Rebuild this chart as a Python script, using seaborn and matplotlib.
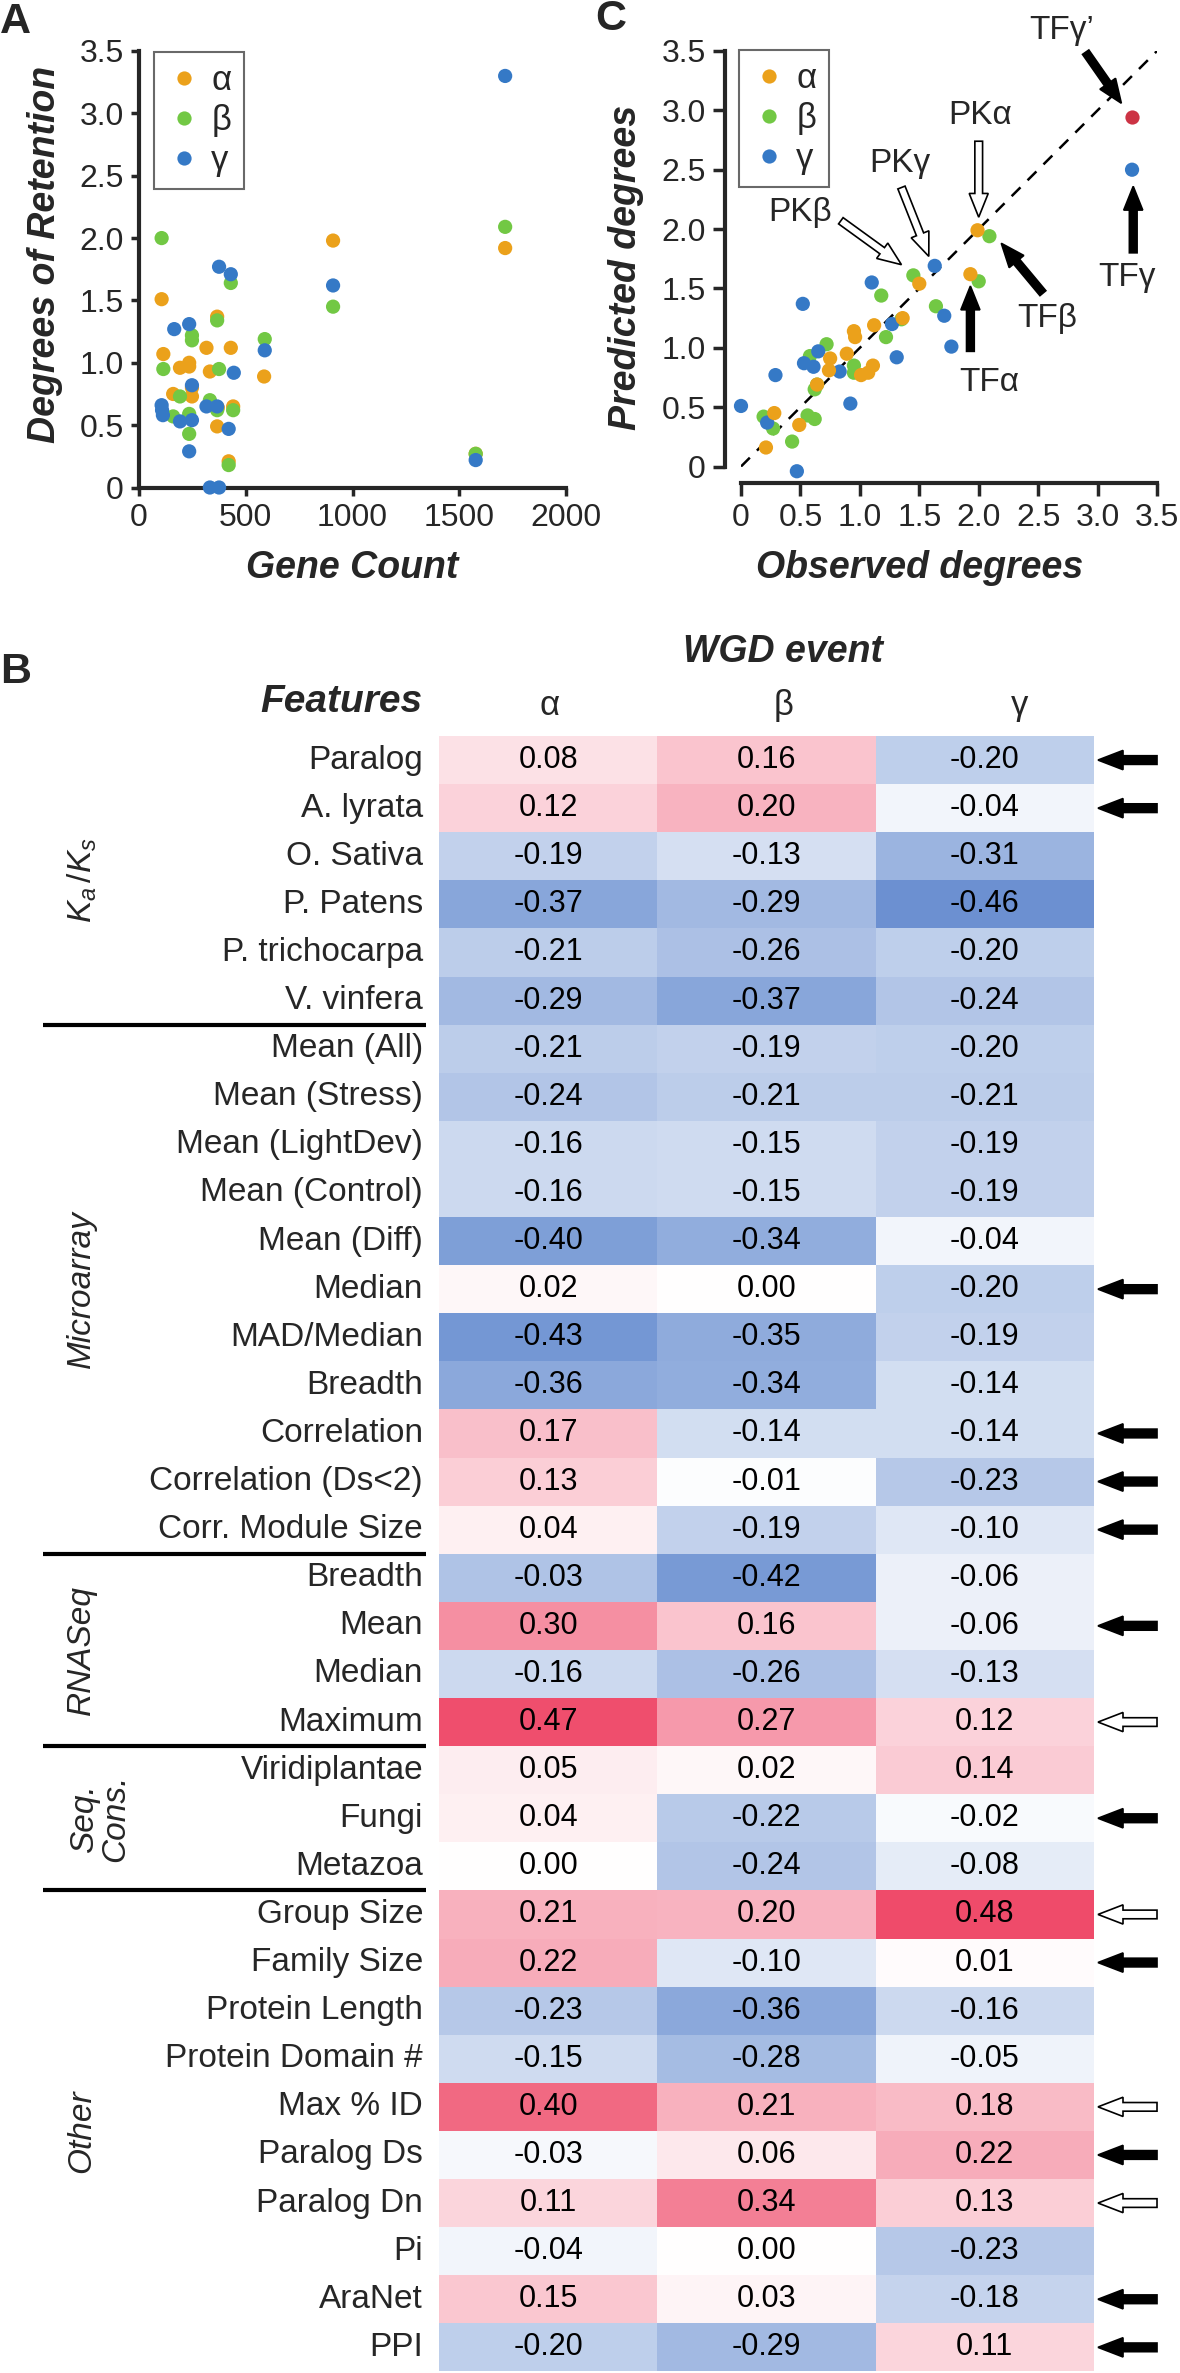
import numpy as np
import pandas as pd
import matplotlib.pyplot as plt
import seaborn as sns
from matplotlib.colors import LinearSegmentedColormap
from matplotlib.patches import FancyArrow

sns.set_style('ticks')
plt.rcParams['font.family'] = ['Liberation Sans', 'DejaVu Sans']
plt.rcParams['mathtext.fontset'] = 'custom'
plt.rcParams['mathtext.rm'] = 'Liberation Sans'
plt.rcParams['mathtext.it'] = 'Liberation Sans:italic'

# ---- data ----
events = ['α', 'β', 'γ']
colors = {'α': '#EBA11B', 'β': '#72C844', 'γ': '#3579C6'}

# panel A: gene count vs degrees of retention
alpha_count = [106, 114, 160, 192, 235, 235, 248, 248, 316, 332, 366, 366, 369, 430, 441, 420, 586, 909, 1577, 1715]
alpha_deg = [1.51, 1.07, 0.75, 0.96, 1.00, 0.97, 0.73, 0.80, 1.12, 0.93, 1.37, 0.49, 0.64, 1.12, 0.65, 0.21, 0.89, 1.98, 0.27, 1.92]
beta_count = [106, 114, 160, 192, 235, 235, 248, 248, 332, 366, 375, 366, 430, 441, 420, 589, 909, 1577, 1715]
beta_deg = [2.00, 0.95, 0.57, 0.73, 0.59, 0.43, 1.22, 1.18, 0.70, 1.34, 0.95, 0.62, 1.64, 0.62, 0.18, 1.19, 1.45, 0.27, 2.09]
gamma_count = [106, 108, 112, 165, 192, 235, 248, 248, 235, 316, 332, 375, 366, 375, 430, 444, 420, 589, 909, 1577, 1715]
gamma_deg = [0.66, 0.62, 0.58, 1.27, 0.53, 1.31, 0.82, 0.54, 0.29, 0.65, 0.0, 0.0, 0.65, 1.77, 1.71, 0.92, 0.47, 1.10, 1.62, 0.22, 3.30]

# panel C: observed vs predicted degrees
alpha_obs = [0.21, 0.28, 0.49, 0.64, 0.74, 0.75, 0.89, 0.95, 0.96, 1.01, 1.07, 1.11, 1.12, 1.36, 1.50, 1.93, 1.99]
alpha_pred = [0.16, 0.45, 0.35, 0.69, 0.81, 0.91, 0.95, 1.14, 1.09, 0.77, 0.79, 0.85, 1.19, 1.25, 1.54, 1.62, 1.99]
beta_obs = [0.19, 0.27, 0.43, 0.56, 0.58, 0.62, 0.62, 0.64, 0.72, 0.95, 0.95, 1.18, 1.22, 1.35, 1.45, 1.64, 2.00, 2.09]
beta_pred = [0.42, 0.32, 0.21, 0.43, 0.93, 0.40, 0.65, 0.69, 1.03, 0.85, 0.79, 1.44, 1.09, 1.24, 1.61, 1.35, 1.56, 1.94]
gamma_obs = [0.00, 0.22, 0.29, 0.47, 0.52, 0.53, 0.61, 0.65, 0.83, 0.92, 1.10, 1.27, 1.31, 1.63, 1.71, 1.77, 3.29]
gamma_pred = [0.51, 0.37, 0.77, -0.04, 1.37, 0.87, 0.84, 0.97, 0.80, 0.53, 1.55, 1.20, 0.92, 1.69, 1.27, 1.01, 2.50]
tfg2_obs, tfg2_pred = 3.29, 2.94

deg_ticks = [0, 0.5, 1.0, 1.5, 2.0, 2.5, 3.0, 3.5]
deg_ticklabels = ['0', '0.5', '1.0', '1.5', '2.0', '2.5', '3.0', '3.5']
count_ticks = [0, 500, 1000, 1500, 2000]

# panel B: correlation of features with retention
features = ['Paralog', 'A. lyrata', 'O. Sativa', 'P. Patens', 'P. trichocarpa', 'V. vinfera',
            'Mean (All)', 'Mean (Stress)', 'Mean (LightDev)', 'Mean (Control)', 'Mean (Diff)',
            'Median', 'MAD/Median', 'Breadth', 'Correlation', 'Correlation (Ds<2)', 'Corr. Module Size',
            'Breadth', 'Mean', 'Median', 'Maximum',
            'Viridiplantae', 'Fungi', 'Metazoa',
            'Group Size', 'Family Size', 'Protein Length', 'Protein Domain #', 'Max % ID',
            'Paralog Ds', 'Paralog Dn', 'Pi', 'AraNet', 'PPI']
corr_alpha = [0.08, 0.12, -0.19, -0.37, -0.21, -0.29,
              -0.21, -0.24, -0.16, -0.16, -0.40, 0.02, -0.43, -0.36, 0.17, 0.13, 0.04,
              -0.03, 0.30, -0.16, 0.47,
              0.05, 0.04, 0.00,
              0.21, 0.22, -0.23, -0.15, 0.40, -0.03, 0.11, -0.04, 0.15, -0.20]
corr_beta = [0.16, 0.20, -0.13, -0.29, -0.26, -0.37,
             -0.19, -0.21, -0.15, -0.15, -0.34, 0.00, -0.35, -0.34, -0.14, -0.01, -0.19,
             -0.42, 0.16, -0.26, 0.27,
             0.02, -0.22, -0.24,
             0.20, -0.10, -0.36, -0.28, 0.21, 0.06, 0.34, 0.00, 0.03, -0.29]
corr_gamma = [-0.20, -0.04, -0.31, -0.46, -0.20, -0.24,
              -0.20, -0.21, -0.19, -0.19, -0.04, -0.20, -0.19, -0.14, -0.14, -0.23, -0.10,
              -0.06, -0.06, -0.13, 0.12,
              0.14, -0.02, -0.08,
              0.48, 0.01, -0.16, -0.05, 0.18, 0.22, 0.13, -0.23, -0.18, 0.11]
# the cell shading in the original does not follow the printed value for this cell
shade_override = {(17, 'α'): -0.25}
# b = black arrow, w = open arrow
arrow_kind = ['b', 'b', '', '', '', '',
              '', '', '', '', '', 'b', '', '', 'b', 'b', 'b',
              '', 'b', '', 'w',
              '', 'b', '',
              'w', 'b', '', '', 'w', 'b', 'w', '', 'b', 'b']
groups = [r'$K_a\,/K_s$', 'Microarray', 'RNASeq', 'Seq.\nCons.', 'Other']
group_sizes = [6, 11, 4, 3, 10]

# ---- figure ----
W, H = 1180, 2373
fig = plt.figure(figsize=(W / 100, H / 100), dpi=100)


def box(l, t, r, b):
    return [l / W, 1 - b / H, (r - l) / W, (b - t) / H]


def style_axis(ax):
    sns.despine(ax=ax)
    for s in ['left', 'bottom']:
        ax.spines[s].set_linewidth(3)
    ax.tick_params(width=2.5, labelsize=23, pad=5)


# panel A
axA = fig.add_axes(box(139, 51, 566, 487.5))
dfA = pd.DataFrame({
    'count': alpha_count + beta_count + gamma_count,
    'deg': alpha_deg + beta_deg + gamma_deg,
    'event': ['α'] * len(alpha_count) + ['β'] * len(beta_count) + ['γ'] * len(gamma_count)})
sns.scatterplot(data=dfA, x='count', y='deg', hue='event', hue_order=events, palette=colors,
                s=105, linewidth=0, ax=axA, clip_on=False, zorder=3)
axA.set_xlim(0, 2000)
axA.set_ylim(0, 3.5)
axA.set_xticks(count_ticks)
axA.set_xticklabels([str(c) for c in count_ticks], fontsize=23)
axA.set_yticks(deg_ticks)
axA.set_yticklabels(deg_ticklabels, fontsize=23)
style_axis(axA)
axA.tick_params(length=6)
axA.set_xlabel('Gene Count', fontsize=27, fontweight='bold', fontstyle='italic', va='center')
axA.xaxis.set_label_coords(0.5, -0.184)
axA.set_ylabel('Degrees of Retention', fontsize=27, fontweight='bold', fontstyle='italic', va='center')
axA.yaxis.set_label_coords(-0.22, 0.533)
h, l = axA.get_legend_handles_labels()
axA.legend(h, l, loc='upper left', bbox_to_anchor=((154 - 139) / 427, (487.5 - 52) / 436.5),
           borderaxespad=0, frameon=True, fancybox=False, edgecolor='#444444', fontsize=25,
           handletextpad=0.3, labelspacing=0.2, borderpad=0.35, handlelength=1.0)
axA.get_legend().get_frame().set_linewidth(1.5)

# panel C
axC = fig.add_axes(box(741, 51, 1157, 466.5))
dfC = pd.DataFrame({
    'obs': beta_obs + gamma_obs + alpha_obs,
    'pred': beta_pred + gamma_pred + alpha_pred,
    'event': ['β'] * len(beta_obs) + ['γ'] * len(gamma_obs) + ['α'] * len(alpha_obs)})
axC.plot([0, 3.5], [0, 3.5], color='black', lw=1.8, ls=(0, (5, 4)), zorder=1)
sns.scatterplot(data=dfC, x='obs', y='pred', hue='event', hue_order=events, palette=colors,
                s=105, linewidth=0, ax=axC, clip_on=False, zorder=3)
axC.scatter([tfg2_obs], [tfg2_pred], s=105, color='#CC3344', linewidth=0, zorder=3, clip_on=False)
axC.set_xlim(0, 3.5)
axC.set_ylim(0, 3.5)
axC.set_xticks(deg_ticks)
axC.set_xticklabels(deg_ticklabels, fontsize=23)
axC.set_yticks(deg_ticks)
axC.set_yticklabels(deg_ticklabels, fontsize=23)
style_axis(axC)
axC.tick_params(length=9)
axC.spines['left'].set_position(('outward', 11.5))
axC.spines['bottom'].set_position(('outward', 12))
axC.set_xlabel('Observed degrees', fontsize=27, fontweight='bold', fontstyle='italic', va='center')
axC.xaxis.set_label_coords(0.43, -0.244)
axC.set_ylabel('Predicted degrees', fontsize=27, fontweight='bold', fontstyle='italic', va='center')
axC.yaxis.set_label_coords(-0.276, 0.48)
h, l = axC.get_legend_handles_labels()
axC.legend(h, l, loc='upper left', bbox_to_anchor=((739 - 741) / 416, (466.5 - 50) / 415.5),
           borderaxespad=0, frameon=True, fancybox=False, edgecolor='#444444', fontsize=25,
           handletextpad=0.3, labelspacing=0.2, borderpad=0.35, handlelength=1.0)
axC.get_legend().get_frame().set_linewidth(1.5)

# annotations in C: (text, text pos, arrow tail, arrow head, filled)
c_notes = [
    ('TFγ’', (2.70, 3.67), (2.90, 3.49), (3.20, 3.06), True),
    ('TFγ', (3.25, 1.59), (3.30, 1.80), (3.30, 2.36), True),
    ('TFβ', (2.58, 1.25), (2.54, 1.46), (2.19, 1.88), True),
    ('TFα', (2.09, 0.71), (1.93, 0.97), (1.93, 1.52), True),
    ('PKα', (2.01, 2.96), (2.00, 2.74), (2.00, 2.10), False),
    ('PKγ', (1.34, 2.55), (1.35, 2.35), (1.58, 1.77), False),
    ('PKβ', (0.50, 2.14), (0.84, 2.07), (1.35, 1.70), False),
]
for txt, tp, tail, head, filled in c_notes:
    axC.text(tp[0], tp[1], txt, fontsize=24, ha='center', va='center', clip_on=False)
    axC.add_patch(FancyArrow(tail[0], tail[1], head[0] - tail[0], head[1] - tail[1],
                             width=0.065, head_width=0.16, head_length=0.2,
                             length_includes_head=True, clip_on=False, zorder=4,
                             facecolor='black' if filled else 'white', edgecolor='black', lw=1.2))

# panel B heatmap
axB = fig.add_axes(box(439, 736, 1094, 736 + 34 * 48.1))
dfB = pd.DataFrame({'α': corr_alpha, 'β': corr_beta, 'γ': corr_gamma}, index=features)
shade = dfB.copy()
for (r, c), v in shade_override.items():
    shade.iloc[r, shade.columns.get_loc(c)] = v
cmap = LinearSegmentedColormap.from_list('retention', ['#5F87CD', '#FFFFFF', '#EE4464'])
sns.heatmap(shade, ax=axB, cmap=cmap, vmin=-0.5, vmax=0.5, cbar=False, annot=dfB.values, fmt='.2f',
            annot_kws={'fontsize': 22, 'color': 'black'}, xticklabels=False, yticklabels=True)
axB.set_yticklabels(features, rotation=0, fontsize=24)
axB.tick_params(axis='y', length=0, pad=11.5)
axB.set_ylabel('')

x_line0 = (43 - 439) / 218.3
x_line1 = (426 - 439) / 218.3
start = 0
for g, n in zip(groups, group_sizes):
    if start > 0:
        axB.plot([x_line0, x_line1], [start, start], color='black', lw=3, clip_on=False,
                 solid_capstyle='butt')
    xg = (100 - 439) / 218.3 if '\n' in g else (82 - 439) / 218.3
    axB.text(xg, start + n / 2, g, rotation=90, fontsize=24, fontstyle='italic',
             ha='center', va='center', linespacing=1.0, clip_on=False)
    start += n

for i, k in enumerate(arrow_kind):
    if k:
        axB.add_patch(FancyArrow(3 + 63 / 218.3, i + 0.5, -59 / 218.3, 0, width=0.18,
                                 head_width=0.4, head_length=25 / 218.3,
                                 length_includes_head=True, clip_on=False,
                                 facecolor='black' if k == 'b' else 'white',
                                 edgecolor='black', lw=1.2))

# header texts
fig.text(783 / W, 1 - 662 / H, 'WGD event', fontsize=27, fontweight='bold', fontstyle='italic',
         ha='center', va='baseline')
fig.text(422 / W, 1 - 712 / H, 'Features', fontsize=28, fontweight='bold', fontstyle='italic',
         ha='right', va='baseline')
for e, xh in zip(events, [550, 784, 1020]):
    fig.text(xh / W, 1 - 715 / H, e, fontsize=25, ha='center', va='baseline')

# panel letters
fig.text(0 / W, 1 - 22 / H, 'A', fontsize=31, fontweight='bold', ha='left', va='center')
fig.text(0 / W, 1 - 672 / H, 'B', fontsize=31, fontweight='bold', ha='left', va='center')
fig.text(595 / W, 1 - 19 / H, 'C', fontsize=31, fontweight='bold', ha='left', va='center')

fig.savefig('out.png', dpi=100)
